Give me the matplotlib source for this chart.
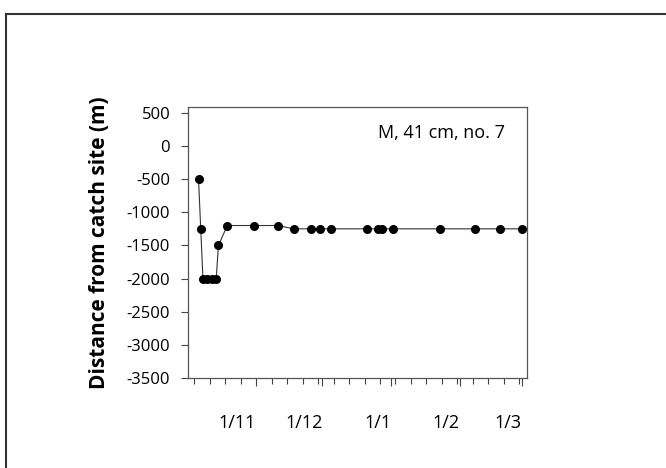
import datetime as dt
import matplotlib
matplotlib.use("Agg")
import matplotlib.pyplot as plt
import matplotlib.dates as mdates
from matplotlib.lines import Line2D

plt.rcParams['font.family'] = ['Open Sans', 'DejaVu Sans']

# fix dates (day, month, year) and distance from catch site (m)
dates = [
    (6, 10, 2001), (7, 10, 2001), (8, 10, 2001), (10, 10, 2001), (12, 10, 2001),
    (14, 10, 2001), (15, 10, 2001), (19, 10, 2001), (31, 10, 2001), (11, 11, 2001),
    (18, 11, 2001), (26, 11, 2001), (30, 11, 2001), (5, 12, 2001), (21, 12, 2001),
    (26, 12, 2001), (28, 12, 2001), (2, 1, 2002), (23, 1, 2002), (8, 2, 2002),
    (19, 2, 2002), (1, 3, 2002),
]
distance = [-500, -1250, -2000, -2000, -2000, -2000, -1500, -1200, -1200, -1200,
            -1250, -1250, -1250, -1250, -1250, -1250, -1250, -1250, -1250, -1250,
            -1250, -1250]

yticks = [500, 0, -500, -1000, -1500, -2000, -2500, -3000, -3500]
month_ticks = [(1, 11, 2001), (1, 12, 2001), (1, 1, 2002), (1, 2, 2002), (1, 3, 2002)]
month_labels = ["1/11", "1/12", "1/1", "1/2", "1/3"]

x = [dt.datetime(y, m, d) for d, m, y in dates]

fig = plt.figure(figsize=(6.66, 4.68), dpi=100)
ax = fig.add_axes([0.2827, 0.1923, 0.5086, 0.578])

ax.plot(x, distance, color='#333333', lw=0.8, marker='o', ms=5.5,
        mfc='black', mec='black')

ax.set_xlim(dt.datetime(2001, 10, 1, 9), dt.datetime(2002, 3, 3, 10))
ax.set_ylim(-3500, 580)

ax.set_yticks(yticks)
ax.set_yticklabels([str(v) for v in yticks])
ax.set_xticks([dt.datetime(y, m, d) for d, m, y in month_ticks])
ax.set_xticklabels(month_labels, ha='right')
ax.xaxis.set_minor_locator(mdates.WeekdayLocator(byweekday=mdates.TH))

ax.tick_params(axis='y', direction='out', length=5, width=0.8, colors='#444444',
               labelcolor='black', labelsize=12, pad=8, right=False)
ax.tick_params(axis='x', which='major', direction='out', length=6, width=0.8,
               colors='#444444', labelcolor='black', labelsize=13, pad=20, top=False)
ax.tick_params(axis='x', which='minor', direction='out', length=4, width=0.8,
               colors='#444444', top=False)

for s in ax.spines.values():
    s.set_color('#555555')
    s.set_linewidth(0.9)

ax.set_ylabel("Distance from catch site (m)", fontsize=15, fontweight='bold', labelpad=12)
ax.text(0.935, 0.906, "M, 41 cm, no. 7", transform=ax.transAxes, ha='right',
        va='center', fontsize=13)

# outer frame (top and left edges only)
fig.add_artist(Line2D([0.0083, 1.0], [0.971, 0.971], transform=fig.transFigure,
                      color='#333333', lw=1.5))
fig.add_artist(Line2D([0.0083, 0.0083], [0.0, 0.971], transform=fig.transFigure,
                      color='#333333', lw=1.5))

fig.savefig("out.png", dpi=100)
